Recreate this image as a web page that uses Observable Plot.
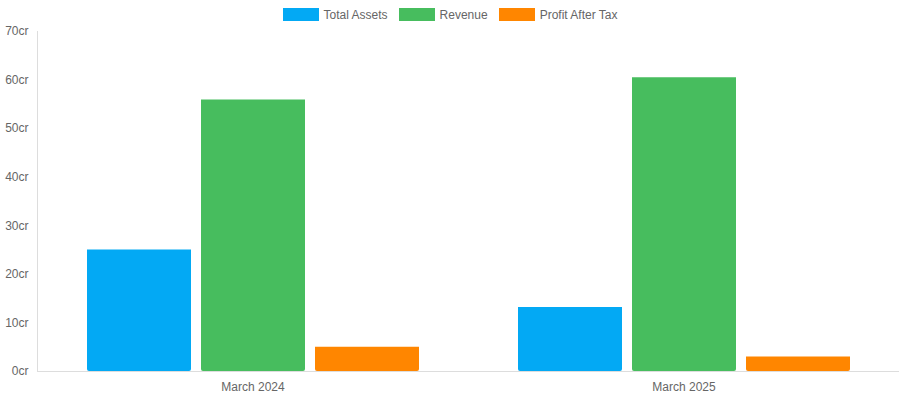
<!DOCTYPE html>
<html>
<head>
<meta charset="utf-8">
<script src="https://cdn.jsdelivr.net/npm/d3@7"></script>
<script src="https://cdn.jsdelivr.net/npm/@observablehq/plot@0.6"></script>
<style>
  html, body { margin: 0; padding: 0; background: #fff; }
  body { width: 900px; font-family: "Liberation Sans", Arial, sans-serif; }
  #legend { height: 24px; display: flex; justify-content: center; align-items: flex-start; padding-top: 8px; box-sizing: border-box; font-size: 12px; color: #666; }
  .item { display: flex; align-items: center; margin: 0 5.5px; height: 13px; }
  .sw { width: 36px; height: 13px; margin-right: 5px; }
  svg { display: block; }
</style>
</head>
<body>
<div id="legend"></div>
<div id="chart"></div>
<script>
const periods = ["March 2024", "March 2025"];
const series = ["Total Assets", "Revenue", "Profit After Tax"];
const colors = ["#03A9F4", "#47BD5E", "#FF8600"];
const totalAssets = [25, 13.2];
const revenue = [55.9, 60.5];
const profitAfterTax = [5, 3.0];
const yTicks = [0, 10, 20, 30, 40, 50, 60, 70];

const valuesBySeries = [totalAssets, revenue, profitAfterTax];
const data = [];
periods.forEach((p, i) => {
  series.forEach((s, j) => {
    data.push({period: p, series: s, value: valuesBySeries[j][i]});
  });
});

const legend = document.getElementById("legend");
series.forEach((s, j) => {
  const it = document.createElement("div");
  it.className = "item";
  const sw = document.createElement("div");
  sw.className = "sw";
  sw.style.background = colors[j];
  const tx = document.createElement("span");
  tx.textContent = s;
  it.appendChild(sw);
  it.appendChild(tx);
  legend.appendChild(it);
});

const chart = Plot.plot({
  width: 900,
  height: 376,
  marginTop: 7,
  marginBottom: 29,
  marginLeft: 37,
  marginRight: 1,
  style: {fontFamily: "'Liberation Sans', Arial, sans-serif", fontSize: "12px", color: "#666", background: "#fff"},
  fx: {domain: periods, padding: 0, label: null, tickSize: 0, tickPadding: 11},
  x: {domain: series, axis: null, paddingInner: 0.09, paddingOuter: 0.43},
  y: {domain: [0, 70], ticks: yTicks, tickSize: 0, tickPadding: 9, tickFormat: d => d + "cr", label: null},
  color: {domain: series, range: colors},
  marks: [
    Plot.frame({anchor: "left", stroke: "#dddddd", facet: "super"}),
    Plot.barY(data, {fx: "period", x: "series", y: "value", fill: "series", ry2: 2}),
    Plot.ruleY([0], {stroke: "#dddddd"})
  ]
});
document.getElementById("chart").appendChild(chart);
</script>
</body>
</html>
